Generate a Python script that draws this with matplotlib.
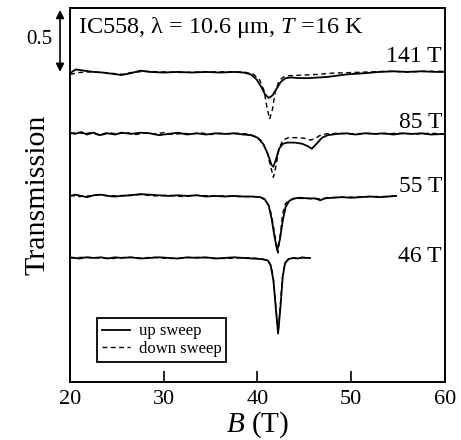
import matplotlib
matplotlib.use("Agg")
import matplotlib.pyplot as plt
import numpy as np

plt.rcParams['font.family'] = ['Liberation Serif', 'DejaVu Serif']
plt.rcParams['mathtext.fontset'] = 'custom'
plt.rcParams['mathtext.rm'] = 'Liberation Serif'
plt.rcParams['mathtext.it'] = 'Liberation Serif:italic'

# ---- data (offsets: 141 T -> 2.5, 85 T -> 2.0, 55 T -> 1.5, 46 T -> 1.0)
# 141 T
b141_up = [20.0, 20.6, 21.5, 22.5, 23.5, 24.5, 25.5, 26.5, 27.5, 28.5, 30.0, 31.5, 33.0, 34.5,
           36.0, 37.5, 38.5, 39.3, 39.9, 40.4, 40.8, 41.2, 41.6, 42.0, 42.5, 43.0, 43.6, 44.5,
           45.5, 46.5, 47.5, 48.5, 49.5, 50.5, 51.5, 53.0, 54.5, 56.0, 57.5, 59.0, 60.0]
t141_up = [-0.01, 0.02, 0.01, 0.0, -0.005, -0.015, -0.025, -0.01, 0.01, 0.0, -0.005, 0.0, -0.005, 0.0,
           -0.005, 0.0, -0.005, -0.02, -0.06, -0.12, -0.18, -0.21, -0.19, -0.14, -0.08, -0.05, -0.045, -0.05,
           -0.05, -0.045, -0.04, -0.03, -0.02, -0.015, -0.01, 0.0, 0.005, 0.0, 0.005, 0.0, 0.0]
b141_dn = [20.0, 21.0, 22.0, 23.5, 25.0, 25.6, 26.5, 28.0, 30.0, 32.0, 34.0, 36.0, 38.5, 39.5,
           40.2, 40.7, 41.0, 41.3, 41.6, 41.9, 42.3, 42.8, 43.5, 45.0, 46.5, 48.0, 50.0, 52.0,
           54.0, 56.0, 58.0, 60.0]
t141_dn = [-0.02, -0.005, 0.0, -0.005, -0.015, -0.02, -0.005, 0.005, 0.0, -0.005, 0.0, 0.0, 0.0, -0.015,
           -0.06, -0.15, -0.28, -0.38, -0.3, -0.16, -0.07, -0.04, -0.03, -0.025, -0.02, -0.01, -0.005, 0.0,
           0.005, 0.0, 0.005, 0.005]

# 85 T
b85_up = [20.0, 20.5, 21.2, 21.8, 22.5, 23.2, 24.0, 24.8, 25.5, 26.5, 27.5, 28.5, 29.5, 30.5,
          31.5, 32.5, 33.5, 34.5, 35.5, 36.5, 37.5, 38.5, 39.3, 40.0, 40.6, 41.1, 41.5, 41.7,
          42.0, 42.3, 42.7, 43.2, 44.0, 44.8, 45.4, 45.8, 46.3, 46.9, 47.5, 48.5, 49.5, 50.5,
          51.5, 52.5, 53.5, 54.5, 55.5, 56.5, 57.5, 58.5, 60.0]
t85_up = [0.01, 0.0, 0.015, -0.005, 0.01, -0.01, 0.005, -0.005, 0.01, 0.0, 0.01, 0.005, -0.01, 0.0,
          0.01, -0.005, 0.005, -0.005, 0.005, 0.0, 0.005, -0.005, -0.01, -0.03, -0.08, -0.16, -0.25, -0.265,
          -0.2, -0.12, -0.08, -0.07, -0.07, -0.08, -0.1, -0.12, -0.08, -0.03, -0.01, 0.0, 0.005, -0.005,
          0.005, 0.0, 0.005, -0.005, 0.005, 0.0, 0.005, -0.005, 0.0]
b85_dn = [20.0, 20.7, 21.5, 22.3, 23.0, 24.0, 25.0, 26.0, 27.0, 28.0, 29.0, 30.0, 31.0, 32.0,
          33.0, 34.0, 35.0, 36.0, 37.0, 38.0, 39.0, 39.8, 40.5, 41.0, 41.4, 41.7, 42.0, 42.3,
          42.7, 43.3, 44.2, 45.0, 45.6, 46.1, 46.6, 47.3, 48.5, 50.0, 51.5, 53.0, 55.0, 57.0,
          58.5, 60.0]
t85_dn = [0.0, 0.015, 0.0, 0.012, -0.008, 0.01, 0.0, 0.012, -0.005, 0.008, 0.0, 0.01, -0.005, 0.005,
          0.0, 0.008, -0.005, 0.005, 0.0, 0.005, 0.0, -0.02, -0.06, -0.14, -0.26, -0.35, -0.25, -0.12,
          -0.05, -0.03, -0.03, -0.035, -0.05, -0.04, -0.015, 0.0, 0.005, 0.0, 0.005, 0.0, 0.005, 0.0,
          0.005, 0.0]

# 55 T
b55_up = [20.0, 20.6, 21.2, 21.8, 22.5, 23.3, 24.0, 24.8, 25.5, 26.5, 27.5, 28.5, 29.5, 30.5,
          31.5, 32.5, 33.5, 34.5, 35.5, 36.5, 37.5, 38.5, 39.5, 40.3, 40.8, 41.2, 41.5, 41.8,
          42.1, 42.4, 42.7, 43.0, 43.4, 43.9, 44.5, 45.5, 46.2, 46.7, 47.2, 48.0, 49.0, 50.0,
          51.0, 52.0, 53.0, 54.0, 54.8]
t55_up = [0.0, 0.01, 0.0, -0.01, 0.005, 0.01, 0.0, -0.005, 0.0, 0.005, 0.015, 0.01, 0.005, 0.0,
          0.005, 0.0, 0.005, -0.005, 0.0, -0.005, 0.0, -0.005, -0.005, -0.01, -0.03, -0.08, -0.18, -0.32,
          -0.44, -0.35, -0.2, -0.09, -0.04, -0.02, -0.015, -0.02, -0.02, -0.035, -0.02, -0.015, -0.01, -0.015,
          -0.01, -0.005, -0.01, -0.005, 0.0]
b55_dn = [20.0, 21.0, 22.0, 23.0, 24.5, 26.0, 27.5, 29.0, 30.5, 32.0, 33.5, 35.0, 36.5, 38.0,
          39.5, 40.4, 40.9, 41.3, 41.6, 41.9, 42.2, 42.45, 42.7, 43.0, 43.5, 44.2, 45.2, 46.5,
          47.5, 49.0, 50.5, 52.0, 53.5, 54.8]
t55_dn = [0.005, -0.005, 0.0, 0.008, 0.0, 0.005, 0.01, 0.0, 0.005, -0.005, 0.005, 0.0, 0.0, -0.005,
          -0.005, -0.01, -0.03, -0.09, -0.2, -0.34, -0.46, -0.3, -0.14, -0.06, -0.03, -0.02, -0.02, -0.025,
          -0.015, -0.01, -0.01, -0.005, -0.005, 0.0]

# 46 T
b46_up = [20.0, 20.5, 21.0, 21.7, 22.5, 23.3, 24.0, 24.8, 25.5, 26.5, 27.5, 28.5, 29.5, 30.5,
          31.5, 32.5, 33.5, 34.5, 35.5, 36.5, 37.5, 38.5, 39.5, 40.5, 41.1, 41.4, 41.7, 41.95,
          42.2, 42.45, 42.7, 42.95, 43.3, 43.8, 44.3, 44.8, 45.2, 45.6]
t46_up = [0.005, 0.0, -0.005, 0.005, 0.0, 0.005, -0.005, 0.005, 0.0, 0.005, -0.005, 0.0, 0.005, 0.0,
          -0.005, 0.005, 0.0, 0.005, -0.005, 0.0, 0.005, 0.0, -0.005, -0.01, -0.02, -0.06, -0.18, -0.4,
          -0.61, -0.4, -0.15, -0.04, -0.01, 0.0, -0.005, 0.005, 0.0, 0.0]
b46_dn = [20.0, 21.5, 23.0, 24.5, 26.0, 27.5, 29.0, 30.5, 32.0, 33.5, 35.0, 36.5, 38.0, 39.5,
          40.6, 41.2, 41.5, 41.75, 42.0, 42.2, 42.4, 42.65, 42.9, 43.3, 44.0, 44.8, 45.6]
t46_dn = [0.0, 0.005, 0.0, -0.005, 0.005, 0.0, 0.005, -0.005, 0.0, 0.005, 0.0, -0.005, 0.0, 0.0,
          -0.01, -0.025, -0.07, -0.2, -0.42, -0.6, -0.42, -0.16, -0.05, -0.01, 0.0, 0.0, 0.0]

traces = [
    ('141 T', 2.5, b141_up, t141_up, b141_dn, t141_dn, 2.58),
    ('85 T', 2.0, b85_up, t85_up, b85_dn, t85_dn, 2.05),
    ('55 T', 1.5, b55_up, t55_up, b55_dn, t55_dn, 1.53),
    ('46 T', 1.0, b46_up, t46_up, b46_dn, t46_dn, 0.97),
]

fig = plt.figure(figsize=(4.61, 4.40), dpi=100)
ax = fig.add_axes([0.152, 0.132, 0.813, 0.850])

for i, (name, off, bu, tu, bd, td, ylab) in enumerate(traces):
    ax.plot(bd, np.array(td) + off, color='black', lw=1.0, dashes=(3.5, 2.5),
            label='down sweep' if i == 0 else None)
    ax.plot(bu, np.array(tu) + off, color='black', lw=1.3,
            label='up sweep' if i == 0 else None)
    ax.text(59.7, ylab, name, ha='right', va='baseline', fontsize=17)

ax.set_xlim(20, 60)
ax.set_ylim(0, 374 / 124)
ax.set_xticks([20, 30, 40, 50, 60])
ax.set_yticks([])
ax.tick_params(axis='x', direction='in', length=8, width=1.2, labelsize=16, pad=6)
for sp in ax.spines.values():
    sp.set_linewidth(1.4)

ax.set_xlabel('$B$ (T)', fontsize=21, labelpad=0)
ax.set_ylabel('Transmission', fontsize=21.5, labelpad=14)

ax.text(0.021, 0.933, 'IC558, λ = 10.6 μm, $T$ =16 K', transform=ax.transAxes,
        ha='left', va='baseline', fontsize=17.5)

# 0.5 scale arrow
ax.annotate('', xy=(18.93, 3.0), xytext=(18.93, 2.5), annotation_clip=False,
            arrowprops=dict(arrowstyle='<|-|>', color='black', lw=1.2, mutation_scale=12,
                            shrinkA=0, shrinkB=0))
ax.text(16.7, 2.758, '0.5', ha='center', va='center', fontsize=15, clip_on=False)

handles, labels = ax.get_legend_handles_labels()
order = [labels.index('up sweep'), labels.index('down sweep')]
leg = ax.legend([handles[k] for k in order], [labels[k] for k in order],
                loc='lower left', bbox_to_anchor=(0.072, 0.053), borderaxespad=0,
                fontsize=12, handlelength=1.7, handletextpad=0.5, labelspacing=0.1,
                borderpad=0.3, fancybox=False, framealpha=1)
leg.get_frame().set_edgecolor('black')
leg.get_frame().set_linewidth(1.3)

fig.savefig('out.png', dpi=100)
